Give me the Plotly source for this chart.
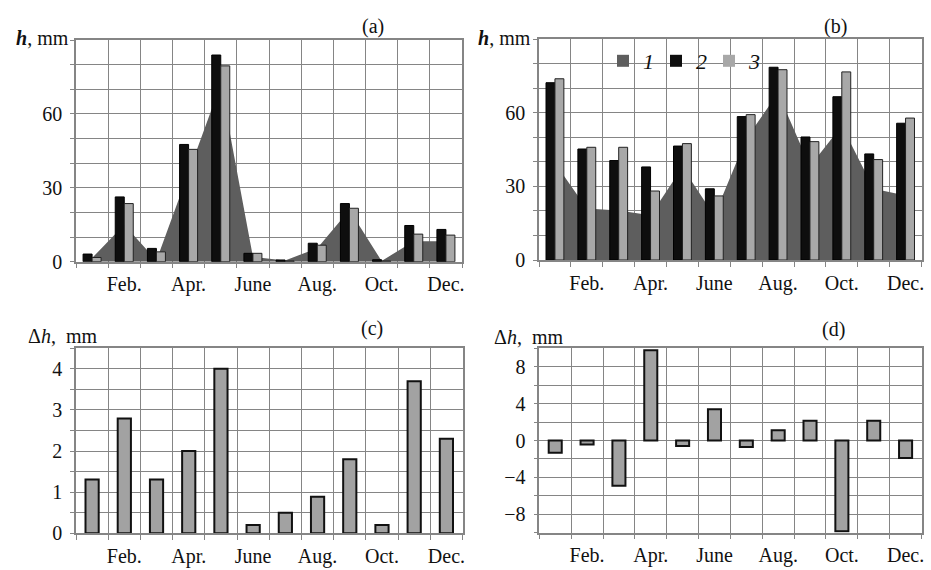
import plotly.graph_objects as go

months = list(range(1, 13))
tick_pos = [2, 4, 6, 8, 10, 12]
tick_text = ["Feb.", "Apr.", "June", "Aug.", "Oct.", "Dec."]

# panel (a)
a_s1 = [1.5, 15, 0.5, 36, 72, 2, 0.5, 5.5, 21, 0.3, 8.3, 8.3]
a_s2 = [3.1, 26.3, 5.4, 47.6, 83.9, 3.4, 0.7, 7.5, 23.6, 0.8, 14.7, 13.1]
a_s3 = [1.7, 23.6, 4.0, 45.6, 79.5, 3.4, 0.3, 6.7, 21.7, 0.3, 11.2, 10.8]

# panel (b)
b_s1 = [39.5, 21, 20.2, 18.2, 37.8, 18, 49.4, 68, 38.2, 54.7, 29, 26.3]
b_s2 = [72.2, 45.2, 40.5, 37.9, 46.4, 29.0, 58.4, 78.5, 50.1, 66.5, 43.2, 55.7]
b_s3 = [73.8, 45.9, 45.9, 28.1, 47.4, 26.1, 59.2, 77.5, 48.2, 76.6, 40.9, 57.8]

# panel (c)
c_dh = [1.31, 2.79, 1.31, 2.0, 4.0, 0.2, 0.5, 0.89, 1.8, 0.2, 3.7, 2.3]
# panel (d)
d_dh = [-1.33, -0.43, -4.9, 9.8, -0.6, 3.4, -0.7, 1.1, 2.15, -9.85, 2.15, -1.9]

legend_names = ["<i>1</i>", "<i>2</i>", "<i>3</i>"]

C1 = "#5e5e5e"
C2 = "#0e0e0e"
C3 = "#a8a8a8"
CG = "#a2a2a2"
GRID = "#858585"
FONT = "'Liberation Serif', 'Times New Roman', 'DejaVu Serif', serif"

fig = go.Figure()

def area(x, y, xa, ya):
    fig.add_trace(go.Scatter(x=x, y=y, mode="lines", fill="tozeroy",
                             line=dict(width=0, color=C1), fillcolor=C1,
                             xaxis=xa, yaxis=ya, showlegend=False, hoverinfo="skip"))

def pair(x, y2, y3, xa, ya):
    fig.add_trace(go.Bar(x=x, y=y2, offset=-0.28, width=0.28,
                         marker=dict(color=C2, line=dict(color="#000", width=1)),
                         xaxis=xa, yaxis=ya, showlegend=False))
    fig.add_trace(go.Bar(x=x, y=y3, offset=0.0, width=0.28,
                         marker=dict(color=C3, line=dict(color="#222", width=1)),
                         xaxis=xa, yaxis=ya, showlegend=False))

area(months, a_s1, "x", "y")
pair(months, a_s2, a_s3, "x", "y5")
area(months, b_s1, "x2", "y2")
pair(months, b_s2, b_s3, "x2", "y6")

for vals, xa, ya in [(c_dh, "x3", "y3"), (d_dh, "x4", "y4")]:
    fig.add_trace(go.Bar(x=months, y=vals, offset=-0.205, width=0.41,
                         marker=dict(color=CG, line=dict(color="#111", width=2)),
                         xaxis=xa, yaxis=ya, showlegend=False))

# legend entries
for name, col in zip(legend_names, [C1, C2, C3]):
    fig.add_trace(go.Scatter(x=[None], y=[None], mode="markers", name=name,
                             marker=dict(symbol="square", size=12, color=col),
                             xaxis="x2", yaxis="y2"))

def xax(domain, anchor):
    return dict(domain=domain, anchor=anchor, range=[0.5, 12.5], automargin=False,
                tickvals=tick_pos, ticktext=tick_text, showgrid=False,
                ticks="", ticklabelstandoff=4, ticklabeloverflow="allow",
                minor=dict(tick0=0.5, dtick=1, showgrid=True, gridcolor=GRID,
                           gridwidth=1, ticks="outside", ticklen=5, tickcolor=GRID),
                showline=True, linecolor=GRID, linewidth=1.5, mirror=True,
                zeroline=False, tickfont=dict(family=FONT, size=20, color="#111"))

def yax(domain, anchor, rng, tv, mdt):
    return dict(domain=domain, anchor=anchor, range=rng, tickvals=tv, automargin=False,
                showgrid=True, gridcolor=GRID, gridwidth=1,
                ticks="outside", ticklen=4, tickcolor=GRID, ticklabelstandoff=4,
                minor=dict(dtick=mdt, showgrid=True, gridcolor=GRID, gridwidth=1,
                           ticks="outside", ticklen=4, tickcolor=GRID),
                showline=True, linecolor=GRID, linewidth=1.5, mirror=True,
                zeroline=False, tickfont=dict(family=FONT, size=20, color="#111"))

W, H = 931, 570
def dx(a, b):
    return [a / W, b / W]
def dy(top, bot):
    return [1 - bot / H, 1 - top / H]

fig.update_layout(
    width=W, height=H, margin=dict(l=0, r=0, t=0, b=0, autoexpand=False),
    paper_bgcolor="white", plot_bgcolor="white",
    barmode="overlay",
    xaxis=xax(dx(76, 462), "y"),
    yaxis=yax(dy(40, 261.7), "x", [0, 90], [0, 30, 60], 10),
    xaxis2=xax(dx(539, 921.5), "y2"),
    yaxis2=yax(dy(39, 260), "x2", [0, 90], [0, 30, 60], 10),
    xaxis3=xax(dx(76, 462.5), "y3"),
    yaxis3=yax(dy(348.3, 533.3), "x3", [0, 4.5], [0, 1, 2, 3, 4], 0.5),
    xaxis4=xax(dx(539.3, 921.5), "y4"),
    yaxis4=yax(dy(348.3, 532.7), "x4", [-10, 10], [-8, -4, 0, 4, 8], 2),
    yaxis5=dict(overlaying="y", anchor="x", range=[0, 90], visible=False, showgrid=False),
    yaxis6=dict(overlaying="y2", anchor="x2", range=[0, 90], visible=False, showgrid=False),
    showlegend=True,
    legend=dict(x=603 / W, y=1 - 40 / H, xanchor="left", yanchor="top",
                orientation="h", bgcolor="rgba(0,0,0,0)", borderwidth=0,
                font=dict(family=FONT, size=22, color="#111"),
                entrywidth=8, entrywidthmode="pixels", itemclick=False),
    font=dict(family=FONT, size=20, color="#111"),
    hovermode=False,
)

# white backing for the legend inside panel (b)
fig.add_shape(type="rect", xref="paper", yref="paper",
              x0=603 / W, x1=761 / W, y0=1 - 87.5 / H, y1=1 - 40 / H,
              fillcolor="white", line=dict(width=0), layer="between")

def ann(text, x, y, xanchor="center"):
    fig.add_annotation(text=text, x=x / W, y=1 - y / H, xref="paper", yref="paper",
                       showarrow=False, xanchor=xanchor, yanchor="middle",
                       font=dict(family=FONT, size=20, color="#111"))

ann("(a)", 373, 26)
ann("(b)", 835, 26)
ann("(c)", 372, 328)
ann("(d)", 833, 329)
ann("<b><i>h</i></b>, mm", 71, 38, "right")
ann("<b><i>h</i></b>, mm", 533, 38, "right")
ann("Δ<i>h</i>,  mm", 26, 336, "left")
ann("Δ<i>h</i>,  mm", 492, 337, "left")

fig.write_html("out.html", config={"displayModeBar": False},
               post_script="document.body.style.margin='0';document.body.style.overflow='hidden';")
